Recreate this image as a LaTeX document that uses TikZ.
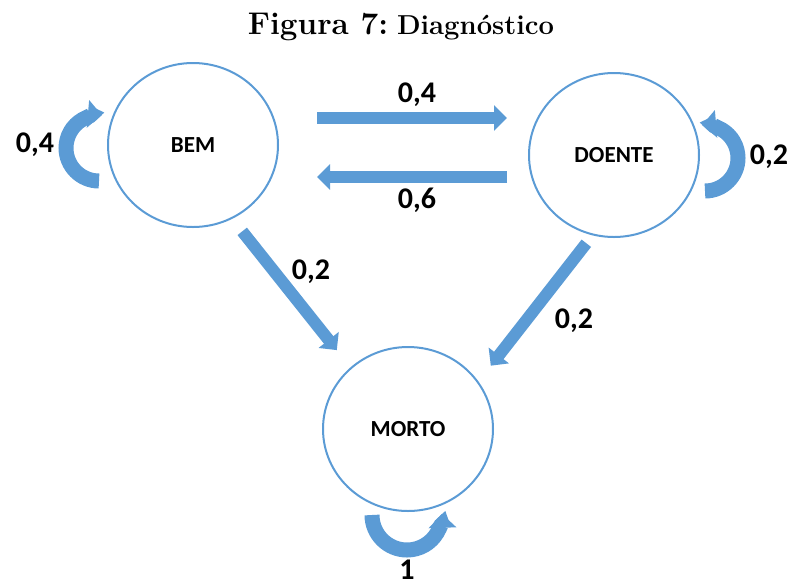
\documentclass[tikz,border=0pt]{standalone}
\usepackage{fontspec}
\newfontfamily\calibri{Carlito}
\usepackage{xcolor}
\usepackage{tikz}
\usetikzlibrary{shapes.geometric,arrows.meta,positioning,calc}
\definecolor{azulestado}{HTML}{5B9BD5}
\tikzset{
    estado/.style={ellipse, draw=azulestado, line width=1pt, minimum width=85pt, minimum height=82pt, inner sep=0pt, font=\calibri\bfseries\fontsize{11.5}{13}\selectfont},
    seta/.style={draw=azulestado, line width=6pt, -{Triangle[width=12.5pt,length=6.5pt]}},
    laco/.style={draw=azulestado, line width=7.5pt, -{Triangle[width=13.5pt,length=7pt]}},
    prob/.style={font=\calibri\bfseries\fontsize{15}{17}\selectfont, inner sep=0pt}
}

\begin{document}
\begin{tikzpicture}[x=0.5pt,y=-0.5pt]
    \useasboundingbox (0,0) rectangle (793,585);

    % Titulo
    \node (titulo) at (401,27) {{\fontsize{15.7}{18}\selectfont\bfseries Figura 7:} {\fontsize{13.7}{16}\selectfont\bfseries Diagnóstico}};

    % Estados
    \node[estado] (bem) at (193,145) {BEM};
    \node[estado] (doente) at (614,155) {DOENTE};
    \node[estado] (morto) at (408,429) {MORTO};

    % Transicoes
    \draw[seta] ([xshift=19pt,yshift=13.5pt]bem.east) -- ([xshift=-10.5pt,yshift=18.5pt]doente.west);
    \draw[seta] ([xshift=-10.5pt,yshift=-11pt]doente.west) -- ([xshift=19pt,yshift=-16pt]bem.east);
    \draw[seta, shorten <=8pt, shorten >=11pt] (bem.-62) -- (morto.133);
    \draw[seta, shorten <=5pt, shorten >=10pt] (doente.-105) -- (morto.34);

    % Lacos
    \draw[laco] ([xshift=-4pt,yshift=-18pt]bem.west) arc[start angle=-90, end angle=-275, radius=16.5pt];
    \draw[laco] ([xshift=2.5pt,yshift=-18pt]doente.east) arc[start angle=-90, end angle=95, radius=16.5pt];
    \draw[laco] ([xshift=-18pt,yshift=-1.5pt]morto.south) arc[start angle=180, end angle=362, radius=17.5pt];

    % Probabilidades
    \node[prob] (p-bem-doente) at (417,95) {0,4};
    \node[prob] (p-doente-bem) at (417,200) {0,6};
    \node[prob] (p-bem-morto) at (311,272) {0,2};
    \node[prob] (p-doente-morto) at (574,321) {0,2};
    \node[prob] (p-bem) at (35,145) {0,4};
    \node[prob] (p-doente) at (769,157) {0,2};
    \node[prob] (p-morto) at (407,570) {1};
\end{tikzpicture}
\end{document}
